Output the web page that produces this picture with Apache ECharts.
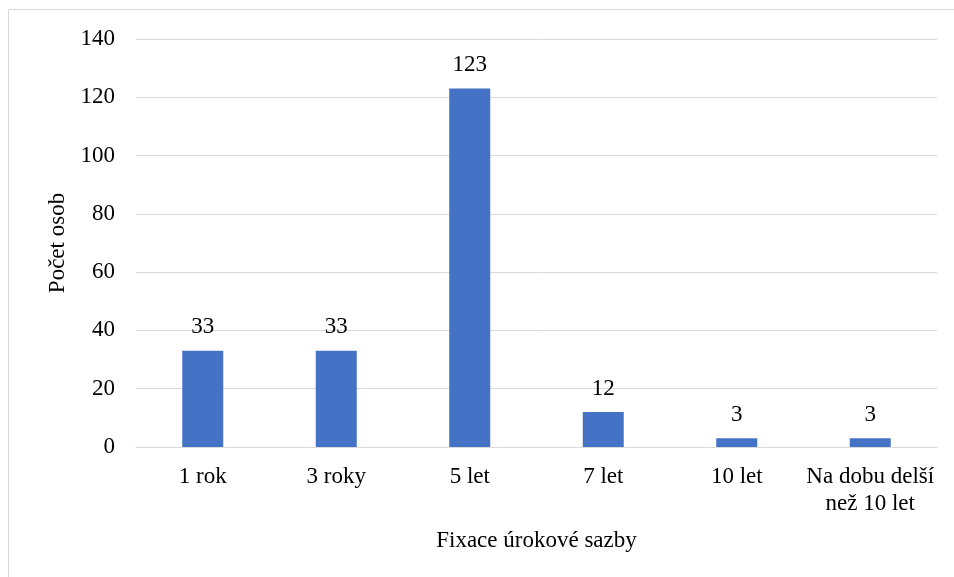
<!DOCTYPE html>
<html>
<head>
<meta charset="utf-8">
<script src="https://cdn.jsdelivr.net/npm/echarts@6/dist/echarts.min.js"></script>
<style>
  html, body { margin: 0; padding: 0; background: #fff; }
  #chart { width: 954px; height: 577px; }
</style>
</head>
<body>
<div id="chart"></div>
<script>
// Interest-rate fixation periods and number of respondents
const categories = ['1 rok', '3 roky', '5 let', '7 let', '10 let', 'Na dobu delší\nnež 10 let'];
const counts = [33, 33, 123, 12, 3, 3];
const yTicks = { min: 0, max: 140, interval: 20 };

const font = '"Liberation Serif", "Times New Roman", serif';
const fs = 23;
const chart = echarts.init(document.getElementById('chart'), null, { renderer: 'canvas' });

chart.setOption({
  backgroundColor: '#ffffff',
  animation: false,
  textStyle: { fontFamily: font },
  graphic: [{
    type: 'rect',
    shape: { x: 8.5, y: 9.5, width: 960, height: 580 },
    style: { fill: 'none', stroke: '#d9d9d9', lineWidth: 1 },
    silent: true
  }],
  grid: { left: 136, right: 17, top: 39, bottom: 130, containLabel: false },
  xAxis: {
    type: 'category',
    data: categories,
    name: 'Fixace úrokové sazby',
    nameLocation: 'middle',
    nameGap: 82,
    nameTextStyle: { fontFamily: font, fontSize: fs, color: '#000' },
    axisLine: { show: true, lineStyle: { color: '#d9d9d9', width: 1 } },
    axisTick: { show: false },
    axisLabel: { fontFamily: font, fontSize: fs, color: '#000', margin: 16, lineHeight: 27, interval: 0 }
  },
  yAxis: {
    type: 'value',
    min: yTicks.min,
    max: yTicks.max,
    interval: yTicks.interval,
    name: 'Počet osob',
    nameLocation: 'middle',
    nameGap: 67,
    nameTextStyle: { fontFamily: font, fontSize: fs, color: '#000' },
    axisLine: { show: false },
    axisTick: { show: false },
    splitLine: { lineStyle: { color: '#d9d9d9', width: 1 } },
    axisLabel: { fontFamily: font, fontSize: fs, color: '#000', margin: 21 }
  },
  series: [{
    type: 'bar',
    data: counts,
    barWidth: 41,
    itemStyle: { color: '#4472c4' },
    label: {
      show: true,
      position: 'top',
      distance: 12,
      fontFamily: font,
      fontSize: fs,
      color: '#000'
    }
  }]
});
</script>
</body>
</html>
